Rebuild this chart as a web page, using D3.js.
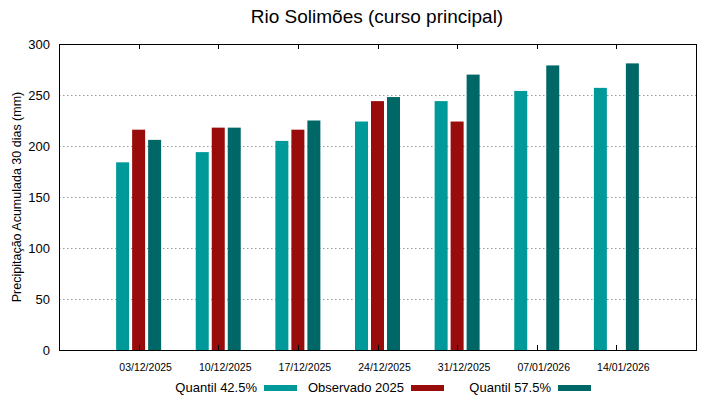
<!DOCTYPE html>
<html>
<head>
<meta charset="utf-8">
<script src="https://cdn.jsdelivr.net/npm/d3@7"></script>
<style>
  body { margin: 0; background: #fff; }
  text { font-family: "Liberation Sans", Arial, sans-serif; fill: #000; }
</style>
</head>
<body>
<div id="chart"></div>
<script>
// data
const dates = ['03/12/2025', '10/12/2025', '17/12/2025', '24/12/2025', '31/12/2025', '07/01/2026', '14/01/2026'];
const quantil425 = [184, 194, 205, 224, 244, 254, 257];
const observado = [216, 218, 216, 244, 224, null, null];
const quantil575 = [206, 218, 225, 248, 270, 279, 281];
const yTicks = [0, 50, 100, 150, 200, 250, 300];

const seriesNames = ['Quantil 42.5%', 'Observado 2025', 'Quantil 57.5%'];
const seriesValues = [quantil425, observado, quantil575];
const colors = ['#009999', '#990c0c', '#006767'];

const width = 719, height = 399;
const margins = { top: 44, right: 23, bottom: 49, left: 59 };
const innerW = width - margins.left - margins.right;
const innerH = height - margins.top - margins.bottom;

const svg = d3.select('#chart').append('svg')
    .attr('width', width)
    .attr('height', height);

const canvas = svg.append('g')
    .attr('transform', `translate(${margins.left}, ${margins.top})`);

// one slot before the first week and one after the last
const xScale = d3.scaleLinear()
    .domain([-1, dates.length])
    .range([0, innerW]);

const yScale = d3.scaleLinear()
    .domain([0, 300])
    .range([innerH, 0]);

// dotted grid
canvas.append('g')
    .selectAll('line')
    .data(yTicks.filter(t => t > 0 && t < 300))
    .enter()
    .append('line')
    .attr('x1', 0)
    .attr('x2', innerW)
    .attr('y1', d => Math.round(yScale(d)) + 0.5)
    .attr('y2', d => Math.round(yScale(d)) + 0.5)
    .attr('stroke', '#999')
    .attr('stroke-width', 1)
    .attr('stroke-dasharray', '1.5,2.5');

// bars
const barW = 13;
const offsets = [-16, 0, 16];
seriesValues.forEach((vals, s) => {
    canvas.append('g')
        .selectAll('rect')
        .data(vals.map((v, i) => ({ i, v })).filter(d => d.v !== null))
        .enter()
        .append('rect')
        .attr('x', d => xScale(d.i) + offsets[s] - barW / 2)
        .attr('y', d => yScale(d.v))
        .attr('width', barW)
        .attr('height', d => innerH - yScale(d.v))
        .attr('fill', colors[s]);
});

// y axis labels
canvas.append('g')
    .selectAll('text')
    .data(yTicks)
    .enter()
    .append('text')
    .attr('x', -9)
    .attr('y', d => yScale(d))
    .attr('dy', '0.36em')
    .attr('text-anchor', 'end')
    .style('font-size', '13px')
    .text(d => d);

// x ticks, inside on bottom and mirrored on top
const tickIdx = d3.range(dates.length);
canvas.append('g')
    .selectAll('line')
    .data(tickIdx)
    .enter()
    .append('line')
    .attr('x1', d => Math.round(xScale(d)) + 0.5)
    .attr('x2', d => Math.round(xScale(d)) + 0.5)
    .attr('y1', innerH)
    .attr('y2', innerH - 5)
    .attr('stroke', '#000');
canvas.append('g')
    .selectAll('line')
    .data(tickIdx)
    .enter()
    .append('line')
    .attr('x1', d => Math.round(xScale(d)) + 0.5)
    .attr('x2', d => Math.round(xScale(d)) + 0.5)
    .attr('y1', 0)
    .attr('y2', 5)
    .attr('stroke', '#000');

canvas.append('g')
    .selectAll('text')
    .data(dates)
    .enter()
    .append('text')
    .attr('x', (d, i) => xScale(i) + 7)
    .attr('y', innerH + 21)
    .attr('text-anchor', 'middle')
    .style('font-size', '10.5px')
    .text(d => d);

// frame
canvas.append('rect')
    .attr('x', 0.5)
    .attr('y', 0.5)
    .attr('width', innerW)
    .attr('height', innerH)
    .attr('fill', 'none')
    .attr('stroke', '#000')
    .attr('stroke-width', 1);

// title and axis label
svg.append('text')
    .attr('x', 377)
    .attr('y', 23)
    .attr('text-anchor', 'middle')
    .style('font-size', '19px')
    .text('Rio Solimões (curso principal)');

svg.append('text')
    .attr('transform', `translate(21, ${margins.top + innerH / 2})rotate(-90)`)
    .attr('text-anchor', 'middle')
    .style('font-size', '12.5px')
    .text('Precipitação Acumulada 30 dias (mm)');

// legend
const legendEnds = [257, 404, 551];
const legend = svg.append('g');
seriesNames.forEach((name, s) => {
    legend.append('text')
        .attr('x', legendEnds[s])
        .attr('y', 392)
        .attr('text-anchor', 'end')
        .style('font-size', '13px')
        .text(name);
    legend.append('rect')
        .attr('x', legendEnds[s] + 7)
        .attr('y', 385)
        .attr('width', 33)
        .attr('height', 6)
        .attr('fill', colors[s]);
});
</script>
</body>
</html>
